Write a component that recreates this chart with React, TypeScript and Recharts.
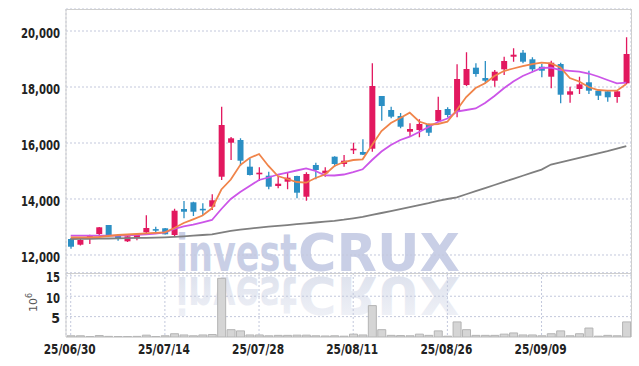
import React from 'react';
import { ComposedChart, Bar, Line, XAxis, YAxis, CartesianGrid } from 'recharts';

const dates = [
  '25/06/30', '25/07/01', '25/07/02', '25/07/03', '25/07/04', '25/07/07', '25/07/08', '25/07/09', '25/07/10', '25/07/11',
  '25/07/14', '25/07/15', '25/07/16', '25/07/17', '25/07/18', '25/07/21', '25/07/22', '25/07/23', '25/07/24', '25/07/25',
  '25/07/28', '25/07/29', '25/07/30', '25/07/31', '25/08/01', '25/08/04', '25/08/05', '25/08/06', '25/08/07', '25/08/08',
  '25/08/11', '25/08/12', '25/08/13', '25/08/14', '25/08/18', '25/08/19', '25/08/20', '25/08/21', '25/08/22', '25/08/25',
  '25/08/26', '25/08/27', '25/08/28', '25/08/29', '25/09/01', '25/09/02', '25/09/03', '25/09/04', '25/09/05', '25/09/08',
  '25/09/09', '25/09/10', '25/09/11', '25/09/12', '25/09/15', '25/09/16', '25/09/17', '25/09/18', '25/09/19', '25/09/22',
];

const tickDates = ['25/06/30', '25/07/14', '25/07/28', '25/08/11', '25/08/26', '25/09/09'];
const priceTicks = [12000, 14000, 16000, 18000, 20000];
const volumeTicks = [5, 10, 15];

const opens = [
  12571, 12368, 12571, 12750, 13071, 12714, 12489, 12596, 12811, 12925,
  12954, 12714, 13643, 13882, 13650, 13725, 14796, 16011, 16107, 15154,
  14882, 14832, 14464, 14618, 14821, 14082, 15214, 14918, 15511, 15250,
  15739, 15679, 15796, 17679, 17179, 16964, 16404, 16464, 16679, 16786,
  17214, 17118, 18071, 18690, 18321, 18225, 18632, 19082, 19225, 18989,
  18725, 18368, 18821, 17725, 17929, 18168, 17868, 17846, 17643, 18132,
];
const highs = [
  12607, 12571, 12720, 13000, 13071, 12720, 12680, 12740, 13418, 13011,
  12960, 13654, 13929, 13900, 13846, 14168, 17296, 16214, 16168, 15454,
  15132, 14975, 14821, 14954, 14830, 14954, 15296, 15132, 15530, 15571,
  16011, 16132, 18846, 17679, 17296, 17071, 16704, 16846, 16700, 17654,
  17275, 18811, 19239, 18846, 18929, 18607, 19082, 19382, 19321, 19061,
  18821, 18939, 18868, 18011, 18368, 18582, 17880, 17860, 17860, 19775,
];
const lows = [
  12225, 12340, 12393, 12654, 12690, 12510, 12460, 12525, 12786, 12811,
  12730, 12680, 13311, 13393, 13430, 13607, 14679, 15393, 15180, 14840,
  14643, 14346, 14382, 14346, 14024, 13939, 14704, 14796, 15154, 15154,
  15607, 15571, 15689, 16796, 16882, 16529, 16250, 16204, 16250, 16750,
  16918, 16918, 18040, 18368, 18132, 18011, 18429, 18904, 18846, 18525,
  18346, 17954, 17418, 17439, 17750, 17750, 17536, 17475, 17439, 18100,
];
const closes = [
  12296, 12536, 12704, 12989, 12704, 12571, 12668, 12725, 12964, 12910,
  12739, 13582, 13546, 13546, 13620, 13954, 16643, 16168, 15368, 14857,
  14940, 14439, 14546, 14761, 14225, 14893, 15036, 15011, 15250, 15368,
  15796, 15582, 18036, 17321, 16939, 16582, 16500, 16679, 16368, 17179,
  17000, 18286, 18643, 18464, 18225, 18546, 18929, 19154, 18904, 18632,
  18582, 18868, 17725, 17846, 18096, 17868, 17689, 17632, 17846, 19179,
];
const ma5 = [
  12632, 12632, 12632, 12643, 12679, 12714, 12732, 12750, 12775, 12793,
  12811, 12964, 13143, 13275, 13411, 13668, 14340, 14696, 15214, 15464,
  15607, 15179, 14821, 14714, 14607, 14582, 14750, 14875, 15179, 15321,
  15393, 15418, 15930, 16429, 16714, 16893, 17082, 16768, 16661, 16679,
  16761, 17179, 17643, 17964, 18132, 18393, 18571, 18661, 18750, 18821,
  18868, 18846, 18696, 18321, 18196, 18000, 17893, 17868, 17868, 18107,
];
const ma10 = [
  12689, 12689, 12689, 12689, 12689, 12689, 12704, 12721, 12739, 12768,
  12804, 12929, 13018, 13089, 13168, 13250, 13643, 14000, 14250, 14464,
  14679, 14768, 14875, 14946, 15018, 15096, 15000, 14846, 14839, 14875,
  14964, 15061, 15393, 15696, 15929, 16107, 16225, 16393, 16571, 16750,
  16875, 17118, 17179, 17232, 17429, 17679, 17954, 18196, 18393, 18536,
  18679, 18689, 18607, 18579, 18546, 18482, 18375, 18250, 18132, 18154,
];
const maLong = [
  12571, 12575, 12580, 12585, 12590, 12596, 12602, 12608, 12614, 12622,
  12632, 12648, 12668, 12690, 12714, 12739, 12800, 12860, 12905, 12945,
  12980, 13010, 13040, 13070, 13100, 13130, 13160, 13190, 13220, 13260,
  13310, 13360, 13430, 13500, 13570, 13640, 13710, 13780, 13850, 13930,
  14000, 14060, 14170, 14280, 14390, 14500, 14610, 14720, 14830, 14940,
  15050, 15230, 15310, 15390, 15470, 15550, 15630, 15710, 15800, 15890,
];
const volumes = [
  0.3, 0.3, 0.1, 0.35, 0.15, 0.1, 0.1, 0.15, 0.45, 0.1,
  0.3, 0.8, 0.5, 0.3, 0.5, 0.6, 14.4, 1.8, 1.5, 0.5,
  0.5, 0.3, 0.4, 0.4, 0.45, 0.45, 0.3, 0.25, 0.3, 0.2,
  0.7, 0.5, 7.7, 1.8, 0.4, 0.35, 0.3, 0.7, 0.4, 1.5,
  0.2, 3.7, 1.8, 0.4, 0.4, 0.4, 0.7, 1.0, 0.5, 0.5,
  0.3, 0.8, 1.5, 0.3, 0.8, 2.2, 0.2, 0.4, 0.3, 3.7,
];

const data = dates.map((date, i) => ({
  date,
  open: opens[i],
  high: highs[i],
  low: lows[i],
  close: closes[i],
  ma5: ma5[i],
  ma10: ma10[i],
  maLong: maLong[i],
  volume: volumes[i],
}));

const UP = '#e2185f';
const DOWN = '#2b8fc4';
const GRID = '#c3c8dc';
const FRAME = '#cfcfcf';
const TICK_FONT = "'DejaVu Sans Condensed', 'DejaVu Sans', sans-serif";

const Candle = (props: any) => {
  const { x, y, width, height, payload } = props;
  if (!payload) return null;
  const { open, close, high, low } = payload;
  const color = close >= open ? UP : DOWN;
  const range = high - low;
  const toY = (v: number) => (range === 0 ? y : y + ((high - v) / range) * height);
  const yTop = toY(Math.max(open, close));
  const yBot = toY(Math.min(open, close));
  const cx = x + width / 2;
  const bodyH = Math.max(yBot - yTop, 1.6);
  return (
    <g>
      <line x1={cx} x2={cx} y1={y} y2={y + height} stroke={color} strokeWidth={1.3} />
      <rect x={x} y={yTop} width={width} height={bodyH} fill={color} />
    </g>
  );
};

const PriceTick = (props: any) => {
  const { x, y, payload } = props;
  return (
    <text x={x} y={y + 7} textAnchor="end" fontFamily={TICK_FONT} fontWeight="bold" fontSize={14} fill="#222"
      textLength={39} lengthAdjust="spacingAndGlyphs">
      {Number(payload.value).toLocaleString('en-US')}
    </text>
  );
};

const VolTick = (props: any) => {
  const { x, y, payload } = props;
  const s = String(payload.value);
  return (
    <text x={x} y={y + 6.5} textAnchor="end" fontFamily={TICK_FONT} fontWeight="bold" fontSize={14} fill="#222"
      {...(s.length > 1 ? { textLength: 14, lengthAdjust: 'spacingAndGlyphs' } : {})}>
      {s}
    </text>
  );
};

const DateTick = (props: any) => {
  const { x, y, payload } = props;
  return (
    <text x={x - 1} y={y + 16.5} textAnchor="middle" fontFamily={TICK_FONT} fontWeight="bold" fontSize={14} fill="#222"
      textLength={52} lengthAdjust="spacingAndGlyphs">
      {payload.value}
    </text>
  );
};

const wmFont = "'DejaVu Sans', sans-serif";

export default function App() {
  return (
    <div style={{ position: 'absolute', left: 0, top: 0, width: 639, height: 366, background: '#fff', overflow: 'hidden' }}>
      <svg width={639} height={366} style={{ position: 'absolute', left: 0, top: 0 }}>
        <defs>
          <linearGradient id="fade" gradientUnits="userSpaceOnUse" x1="0" y1="271" x2="0" y2="233">
            <stop offset="0" stopColor="#dfe3ee" />
            <stop offset="1" stopColor="#eef0f6" />
          </linearGradient>
        </defs>
        <text x={176} y={271} fontFamily={wmFont} fontWeight="bold" fontSize={52} fill="#c9cfe6" textLength={121} lengthAdjust="spacingAndGlyphs">invest</text>
        <text x={298} y={271} fontFamily={wmFont} fontWeight="bold" fontSize={52} fill="#c9cfe6" textLength={162} lengthAdjust="spacingAndGlyphs">CRUX</text>
        <g transform="translate(0,548) scale(1,-1)">
          <text x={176} y={271} fontFamily={wmFont} fontWeight="bold" fontSize={52} fill="url(#fade)" textLength={121} lengthAdjust="spacingAndGlyphs">invest</text>
          <text x={298} y={271} fontFamily={wmFont} fontWeight="bold" fontSize={52} fill="url(#fade)" textLength={162} lengthAdjust="spacingAndGlyphs">CRUX</text>
        </g>
      </svg>

      <div style={{ position: 'absolute', left: 0, top: 0 }}>
        <ComposedChart width={639} height={273} data={data} margin={{ top: 9, right: 8, left: 0, bottom: 0 }}>
          <CartesianGrid stroke={GRID} strokeDasharray="2 2" />
          <XAxis dataKey="date" ticks={tickDates} interval={0} height={0} tick={false} axisLine={false} tickLine={false} />
          <YAxis
            domain={[11357, 20786]}
            ticks={priceTicks}
            interval={0}
            width={66}
            tickSize={0}
            tickMargin={6}
            tick={<PriceTick />}
            axisLine={{ stroke: FRAME }}
            tickLine={false}
            allowDataOverflow
          />
          <Line dataKey="maLong" stroke="#7f7f7f" strokeWidth={1.8} dot={false} isAnimationActive={false} />
          <Line dataKey="ma10" stroke="#cc55e8" strokeWidth={1.8} dot={false} isAnimationActive={false} />
          <Line dataKey="ma5" stroke="#f0844a" strokeWidth={1.8} dot={false} isAnimationActive={false} />
          <Bar dataKey={(d: any) => [d.low, d.high]} shape={<Candle />} barSize={6} isAnimationActive={false} />
        </ComposedChart>
      </div>

      <div style={{ position: 'absolute', left: 0, top: 263 }}>
        <ComposedChart width={639} height={103} data={data} margin={{ top: 10, right: 8, left: 0, bottom: 0 }}>
          <CartesianGrid stroke={GRID} strokeDasharray="2 2" />
          <XAxis dataKey="date" ticks={tickDates} interval={0} height={29} tickSize={0} tickMargin={0} tick={<DateTick />} axisLine={false} tickLine={false} />
          <YAxis
            domain={[0, 15.7]}
            ticks={volumeTicks}
            interval={0}
            width={66}
            tickSize={0}
            tickMargin={6}
            tick={<VolTick />}
            axisLine={{ stroke: FRAME }}
            tickLine={false}
            allowDataOverflow
          />
          <Bar dataKey="volume" fill="#d5d5d5" stroke="#b4b4b4" strokeWidth={1} barSize={8} isAnimationActive={false} />
        </ComposedChart>
      </div>

      <svg width={639} height={366} style={{ position: 'absolute', left: 0, top: 0, pointerEvents: 'none' }}>
        <line x1={66} x2={631} y1={9.5} y2={9.5} stroke={FRAME} />
        <line x1={631.5} x2={631.5} y1={9} y2={337} stroke={FRAME} />
        <line x1={66} x2={631} y1={273.5} y2={273.5} stroke={FRAME} />
        <line x1={66} x2={631} y1={337.5} y2={337.5} stroke="#dcdcdc" />
        <text transform="translate(37,312) rotate(-90)" x={0} y={0} fontFamily="'DejaVu Sans', sans-serif" fontSize={11} fill="#555">
          10<tspan dy={-5} fontSize={8}>6</tspan>
        </text>
      </svg>
    </div>
  );
}
